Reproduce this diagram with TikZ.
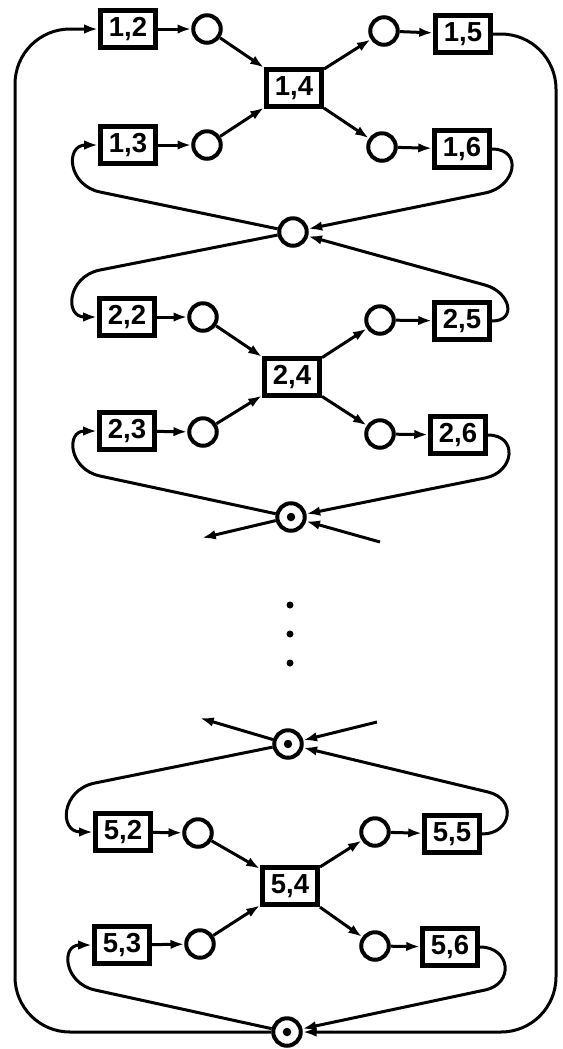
\documentclass[tikz,border=0pt]{standalone}
\usepackage{fontspec}
\setsansfont{Liberation Sans}
\usetikzlibrary{arrows.meta}

\begin{document}
\begin{tikzpicture}[
  x=0.4pt, y=-0.4pt,
  trans/.style={draw, line width=2pt, minimum width=22pt, minimum height=15pt, inner sep=1pt, font=\sffamily\bfseries\fontsize{11}{11}\selectfont},
  place/.style={draw, circle, line width=1.6pt, minimum size=11pt, inner sep=0pt},
  marked/.style={place, path picture={\fill (path picture bounding box.center) circle (1.7pt);}},
  vdot/.style={fill, circle, minimum size=2.8pt, inner sep=0pt},
  flow/.style={-{Latex[length=5.5pt,width=3.8pt]}, line width=1.2pt}
]
  \useasboundingbox (0,0) rectangle (562,1049);

  \node[trans] (t12) at (128,29) {1,2};
  \node[place] (p12) at (207,29) {};
  \node[trans] (t14) at (294,88) {1,4};
  \node[place] (p15) at (384,31) {};
  \node[trans] (t15) at (463,34) {1,5};
  \node[trans] (t13) at (128,145) {1,3};
  \node[place] (p13) at (207,145) {};
  \node[place] (p16) at (382,147) {};
  \node[trans] (t16) at (462,149) {1,6};

  \node[place] (s1) at (293,232) {};

  \node[trans] (t22) at (127,317) {2,2};
  \node[place] (p22) at (203,317) {};
  \node[trans] (t24) at (292,377) {2,4};
  \node[place] (p25) at (380,320) {};
  \node[trans] (t25) at (462,321) {2,5};
  \node[trans] (t23) at (127,431) {2,3};
  \node[place] (p23) at (203,432) {};
  \node[place] (p26) at (380,434) {};
  \node[trans] (t26) at (458,435) {2,6};

  \node[marked] (s2) at (291,517) {};
  \coordinate (s2out) at (202,538);
  \coordinate (s2in) at (380,542);

  \node[vdot] (d1) at (290,605) {};
  \node[vdot] (d2) at (290,634) {};
  \node[vdot] (d3) at (290,663) {};

  \node[marked] (s4) at (288,744) {};
  \coordinate (s4out) at (200,718);
  \coordinate (s4in) at (377,722);

  \node[trans] (t52) at (123,832) {5,2};
  \node[place] (p52) at (198,833) {};
  \node[trans] (t54) at (290,886) {5,4};
  \node[place] (p55) at (375,832) {};
  \node[trans] (t55) at (452,834) {5,5};
  \node[trans] (t53) at (122,945) {5,3};
  \node[place] (p53) at (200,944) {};
  \node[place] (p56) at (375,946) {};
  \node[trans] (t56) at (450,947) {5,6};

  \node[marked] (s5) at (287,1032) {};

  \draw[flow] (t12) -- (p12);
  \draw[flow] (p12) -- (t14);
  \draw[flow] (t13) -- (p13);
  \draw[flow] (p13) -- (t14);
  \draw[flow] (t14) -- (p15);
  \draw[flow] (t14) -- (p16);
  \draw[flow] (p15) -- (t15);
  \draw[flow] (p16) -- (t16);

  \draw[flow] (t22) -- (p22);
  \draw[flow] (p22) -- (t24);
  \draw[flow] (t23) -- (p23);
  \draw[flow] (p23) -- (t24);
  \draw[flow] (t24) -- (p25);
  \draw[flow] (t24) -- (p26);
  \draw[flow] (p25) -- (t25);
  \draw[flow] (p26) -- (t26);

  \draw[flow] (t52) -- (p52);
  \draw[flow] (p52) -- (t54);
  \draw[flow] (t53) -- (p53);
  \draw[flow] (p53) -- (t54);
  \draw[flow] (t54) -- (p55);
  \draw[flow] (t54) -- (p56);
  \draw[flow] (p55) -- (t55);
  \draw[flow] (p56) -- (t56);

  \draw[flow] (s1) -- (100,192) to[out=168, in=180, looseness=1.8] (t13.west);
  \draw[flow] (s1) -- (100,270) to[out=191, in=180, looseness=1.8] (t22.west);
  \draw[flow] (t16.east) to[out=0, in=11, looseness=1.8] (485,193) -- (s1);
  \draw[flow] (t25.east) to[out=0, in=-15, looseness=1.8] (485,285) -- (s1);

  \draw[flow] (s2) -- (100,476) to[out=168, in=180, looseness=1.8] (t23.west);
  \draw[flow] (t26.east) to[out=0, in=11, looseness=1.8] (485,478) -- (s2);
  \draw[flow] (s2) -- (s2out);
  \draw[flow] (s2in) -- (s2);

  \draw[flow] (s4in) -- (s4);
  \draw[flow] (s4) -- (s4out);
  \draw[flow] (s4) -- (95,783) to[out=191, in=180, looseness=1.8] (t52.west);
  \draw[flow] (t55.east) to[out=0, in=-13, looseness=1.8] (488,792) -- (s4);

  \draw[flow] (s5) -- (95,990) to[out=168, in=180, looseness=1.8] (t53.west);
  \draw[flow] (t56.east) to[out=0, in=12, looseness=1.8] (485,990) -- (s5);

  \draw[flow, rounded corners=22pt] (s5.west) -- (15,1032) -- (15,29) -- (t12.west);
  \draw[flow, rounded corners=22pt] (t15.east) -- (556,34) -- (556,1032) -- (s5.east);
\end{tikzpicture}
\end{document}
